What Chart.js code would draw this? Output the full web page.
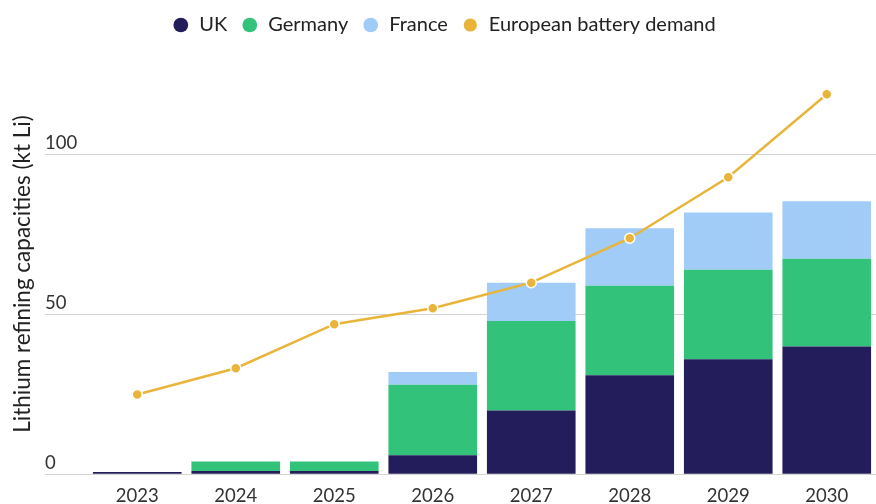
<!DOCTYPE html>
<html>
<head>
<meta charset="utf-8">
<script src="https://cdn.jsdelivr.net/npm/chart.js@4"></script>
<style>
  html, body { margin: 0; padding: 0; background: #ffffff; }
  #wrap { width: 876px; height: 504px; position: relative; }
</style>
</head>
<body>
<div id="wrap"><canvas id="c"></canvas></div>
<script>
const years = ['2023', '2024', '2025', '2026', '2027', '2028', '2029', '2030'];
const ukValues = [0.7, 1, 1, 6, 20, 31, 36, 40];
const germanyValues = [0, 3, 3, 22, 28, 28, 28, 27.5];
const franceValues = [0, 0, 0, 4, 12, 18, 18, 18];
const demandValues = [25, 33.2, 47, 52, 60, 73.9, 93, 119];
const yTickValues = [0, 50, 100];

const FONT = 'Lato, "Open Sans", sans-serif';

const legendShift = {
  id: 'legendShift',
  afterLayout(chart) {
    if (chart.legend) { chart.legend.left += 6; chart.legend.right += 6; }
  }
};

new Chart(document.getElementById('c'), {
  type: 'bar',
  data: {
    labels: years,
    datasets: [
      { label: 'UK', data: ukValues, backgroundColor: '#231E5B', order: 1, stack: 'cap' },
      { label: 'Germany', data: germanyValues, backgroundColor: '#33C27A', order: 1, stack: 'cap' },
      { label: 'France', data: franceValues, backgroundColor: '#A0CCF7', order: 1, stack: 'cap' },
      {
        type: 'line', label: 'European battery demand', data: demandValues,
        borderColor: '#E8B53A', backgroundColor: '#E8B53A', borderWidth: 2.5,
        pointRadius: 5, pointBorderColor: '#ffffff', pointBorderWidth: 1.5,
        pointBackgroundColor: '#E8B53A', tension: 0, order: 0, stack: 'demand'
      }
    ]
  },
  plugins: [legendShift],
  options: {
    responsive: true,
    maintainAspectRatio: false,
    animation: false,
    devicePixelRatio: 1,
    layout: { autoPadding: false, padding: { top: 1, left: 0, right: 0, bottom: -14.5 } },
    datasets: { bar: { categoryPercentage: 1, barPercentage: 0.9 } },
    plugins: {
      tooltip: { enabled: false },
      legend: {
        position: 'top',
        labels: {
          usePointStyle: true,
          pointStyle: 'circle',
          boxWidth: 17,
          boxHeight: 10.4,
          padding: 14,
          color: '#222222',
          font: { family: FONT, size: 20, lineHeight: 1 },
          sort: (a, b) => a.datasetIndex - b.datasetIndex
        }
      }
    },
    scales: {
      x: {
        stacked: true,
        grid: { display: false, drawTicks: false },
        border: { display: false },
        ticks: { color: '#333333', font: { family: FONT, size: 18.5 }, padding: 11, maxRotation: 0 }
      },
      y: {
        stacked: true,
        min: 0,
        max: 134.4,
        afterBuildTicks: (scale) => { scale.ticks = yTickValues.map(v => ({ value: v })); },
        afterFit: (scale) => { scale.width = 88; },
        border: { display: false },
        grid: { color: '#D4D4D4', lineWidth: 1, drawTicks: true, tickLength: 43 },
        ticks: {
          mirror: true, padding: -43, labelOffset: -11.5,
          color: '#333333', font: { family: FONT, size: 18.5 }
        },
        title: {
          display: true,
          text: 'Lithium refining capacities (kt Li)     ',
          color: '#222222',
          font: { family: FONT, size: 22.5 },
          padding: { top: 9, bottom: 0 }
        }
      }
    }
  }
});
</script>
</body>
</html>
